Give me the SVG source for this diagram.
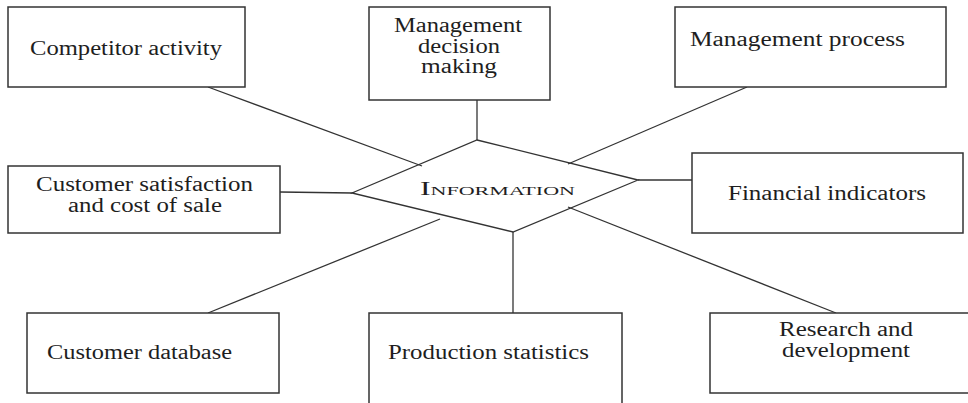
<svg xmlns="http://www.w3.org/2000/svg" width="968" height="403" viewBox="0 0 968 403">
<style>
.box{fill:#fff;stroke:#333;stroke-width:1.5}
.ln{stroke:#333;stroke-width:1.3;fill:none}
.t{font-family:'Liberation Serif',serif;font-size:20px;fill:#1e1e1e}
</style>
<rect width="968" height="403" fill="#fff"/>
<g id="connectors">
<line class="ln" x1="208" y1="87" x2="422" y2="166"/>
<line class="ln" x1="477" y1="100" x2="477" y2="140"/>
<line class="ln" x1="747" y1="87" x2="568" y2="164"/>
<line class="ln" x1="280" y1="192" x2="352" y2="193"/>
<line class="ln" x1="638" y1="180" x2="692" y2="180"/>
<line class="ln" x1="208" y1="313" x2="440" y2="219"/>
<line class="ln" x1="513" y1="232" x2="513" y2="313"/>
<line class="ln" x1="568" y1="207" x2="836" y2="313"/>
</g>
<g id="information">
<polygon class="ln" points="477,140 638,180 513,232 352,193"/>
<text class="t" x="420" y="195" textLength="155" lengthAdjust="spacingAndGlyphs"><tspan font-size="18">I</tspan><tspan font-size="12.5">NFORMATION</tspan></text>
</g>
<g id="competitor">
<rect class="box" x="8" y="7" width="237" height="80"/>
<text class="t" x="30" y="55" textLength="192" lengthAdjust="spacingAndGlyphs">Competitor activity</text>
</g>
<g id="mgmt-decision">
<rect class="box" x="369" y="7" width="181" height="93"/>
<text class="t" x="394" y="32" textLength="128" lengthAdjust="spacingAndGlyphs">Management</text>
<text class="t" x="418" y="53" textLength="82" lengthAdjust="spacingAndGlyphs">decision</text>
<text class="t" x="421" y="73" textLength="76" lengthAdjust="spacingAndGlyphs">making</text>
</g>
<g id="mgmt-process">
<rect class="box" x="675" y="7" width="271" height="80"/>
<text class="t" x="690" y="46" textLength="215" lengthAdjust="spacingAndGlyphs">Management process</text>
</g>
<g id="customer-satisfaction">
<rect class="box" x="8" y="166" width="272" height="67"/>
<text class="t" x="36" y="191" textLength="217" lengthAdjust="spacingAndGlyphs">Customer satisfaction</text>
<text class="t" x="68" y="212" textLength="154" lengthAdjust="spacingAndGlyphs">and cost of sale</text>
</g>
<g id="financial">
<rect class="box" x="692" y="153" width="271" height="80"/>
<text class="t" x="728" y="200" textLength="198" lengthAdjust="spacingAndGlyphs">Financial indicators</text>
</g>
<g id="customer-database">
<rect class="box" x="27" y="313" width="252" height="80"/>
<text class="t" x="47" y="359" textLength="185" lengthAdjust="spacingAndGlyphs">Customer database</text>
</g>
<g id="production">
<rect class="box" x="369" y="313" width="253" height="100"/>
<text class="t" x="388" y="359" textLength="201" lengthAdjust="spacingAndGlyphs">Production statistics</text>
</g>
<g id="research">
<rect class="box" x="710" y="313" width="270" height="80"/>
<text class="t" x="779" y="336" textLength="134" lengthAdjust="spacingAndGlyphs">Research and</text>
<text class="t" x="782" y="357" textLength="128" lengthAdjust="spacingAndGlyphs">development</text>
</g>
</svg>
